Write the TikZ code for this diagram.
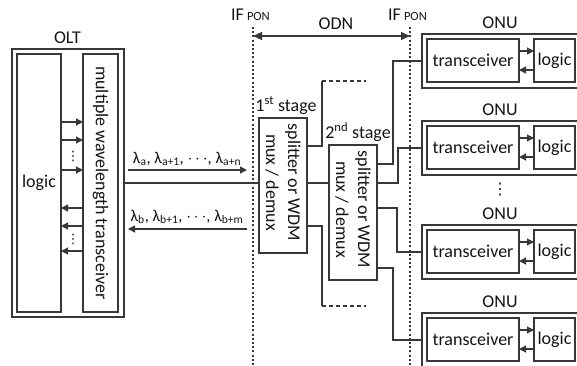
\documentclass[tikz,border=0pt]{standalone}
\usepackage{fontspec}
\setmainfont{Carlito}
\newfontfamily\symfont{DejaVu Sans}
\usetikzlibrary{arrows.meta,calc}
\definecolor{linec}{gray}{0.22}
\definecolor{textc}{gray}{0.08}
\begin{document}
\begin{tikzpicture}[x=1pt,y=-1pt,
  box/.style={draw=linec, line width=1.2pt, inner sep=0pt, outer sep=0pt, anchor=north west, text=textc, font=\fontsize{18}{22}\selectfont},
  wire/.style={draw=linec, line width=1.2pt},
  arr/.style={wire, -{Triangle[length=7pt,width=7pt]}},
  txt/.style={text=textc, font=\fontsize{18}{22}\selectfont, inner sep=0pt},
  iftxt/.style={text=textc, font=\fontsize{18}{18}\selectfont, inner sep=0pt, anchor=base west},
  vdot/.style={text=textc, font=\symfont\fontsize{13}{13}\selectfont, inner sep=0pt},
  dotline/.style={draw=linec, line width=1.3pt, dash pattern=on 2pt off 2.2pt},
  dashline/.style={draw=linec, line width=1.2pt, dash pattern=on 4pt off 3pt}]
\useasboundingbox (0,0) rectangle (577,365);
\clip (0,0) rectangle (577,365);

% OLT
\node[txt] (oltl) at (67.5,38) {OLT};
\node[box, minimum width=112pt, minimum height=268pt] (olt) at (12,49) {};
\node[box, minimum width=44pt, minimum height=258pt] (ologic) at (17,54) {};
\node[txt] (ologict) at (ologic.center) {logic};
\node[box, minimum width=35pt, minimum height=258pt] (otrx) at (83,54) {};
\node[txt, rotate=-90] (otrxt) at (otrx.center) {multiple wavelength transceiver};
\foreach \d in {68pt,86pt,116pt}
  \draw[arr] ([yshift=-\d]ologic.north east) -- ([yshift=-\d]otrx.north west);
\foreach \d in {154pt,172pt,197pt}
  \draw[arr] ([yshift=-\d]otrx.north west) -- ([yshift=-\d]ologic.north east);
\node[vdot] (od1) at (73,156) {⋮};
\node[vdot] (od2) at (73,239) {⋮};

% IF PON lines and ODN
\coordinate (if1t) at (253,27); \coordinate (if1b) at (253,366);
\coordinate (if2t) at (410,27); \coordinate (if2b) at (410,366);
\draw[dotline] (if1t) -- (if1b);
\draw[dotline] (if2t) -- (if2b);
\coordinate (odnl) at (253,36); \coordinate (odnr) at (410,36);
\draw[wire, {Triangle[length=9pt,width=8pt]}-{Triangle[length=9pt,width=8pt]}] (odnl) -- (odnr);
\node[txt] (odn) at (336,24) {ODN};
\node[iftxt] (if1) at (231,20) {IF\,{\fontsize{12.5}{13}\selectfont PON}};
\node[iftxt] (if2) at (388,20) {IF\,{\fontsize{12.5}{13}\selectfont PON}};

% stages
\node[box, minimum width=48pt, minimum height=135pt] (s1) at (259,118) {};
\node[txt, rotate=-90, align=center] (s1t) at ($(s1.center)+(0,-3)$) {splitter or WDM\\mux / demux};
\node[txt, anchor=base] (st1) at (286,111) {1\textsuperscript{st} stage};
\node[box, minimum width=48pt, minimum height=135pt] (s2) at (329,145) {};
\node[txt, rotate=-90, align=center] (s2t) at ($(s2.center)+(0,-3)$) {splitter or WDM\\mux / demux};
\node[txt, anchor=base] (st2) at (358,138) {2\textsuperscript{nd} stage};

% fiber and wavelengths
\draw[wire] (olt.east) -- (olt.east -| s1.west);
\draw[wire] (s1.east |- olt.east) -- (s2.west |- olt.east);
\coordinate (la1) at (128,170); \coordinate (la2) at (247,170);
\coordinate (lb1) at (247,229); \coordinate (lb2) at (128,229);
\draw[arr] (la1) -- (la2);
\draw[arr] (lb1) -- (lb2);
\node[txt, anchor=base, font=\fontsize{16.5}{17}\selectfont] (lat) at (187,163) {λ\textsubscript{a}, λ\textsubscript{a+1}, $\cdots$, λ\textsubscript{a+n}};
\node[txt, anchor=base, font=\fontsize{16.5}{17}\selectfont] (lbt) at (187,221) {λ\textsubscript{b}, λ\textsubscript{b+1}, $\cdots$, λ\textsubscript{b+m}};

% 1st stage outputs
\coordinate (u1) at (322,81); \coordinate (u2) at (366,81);
\draw[wire] ([yshift=-28pt]s1.north east) -| (u1);
\draw[dashline] (u1) -- (u2);
\coordinate (d1) at (322,306); \coordinate (d2) at (366,306);
\draw[wire] ([yshift=27pt]s1.south east) -| (d1);
\draw[dashline] (d1) -- (d2);

% ONUs
\foreach \i/\t in {1/34, 2/121, 3/225, 4/313} {
  \node[box, minimum width=160pt, minimum height=54pt] (onu\i) at (422,\t) {};
  \node[box, minimum width=92pt, minimum height=43pt] (trx\i) at (427,\t+5) {transceiver};
  \node[box, minimum width=41pt, minimum height=43pt] (lg\i) at (534,\t+5) {logic};
  \node[txt] (onul\i) at (500,\t-11) {ONU};
  \draw[arr] ([yshift=-12pt]trx\i.north east) -- ([yshift=-12pt]lg\i.north west);
  \draw[arr] ([yshift=12pt]lg\i.south west) -- ([yshift=12pt]trx\i.south east);
}
\node[vdot, font=\symfont\fontsize{16}{16}\selectfont] (vd) at (500,190) {⋮};

% 2nd stage outputs
\draw[wire] ([yshift=-19pt]s2.north east) -- ++(16,0) |- (onu1.west);
\draw[wire] ([yshift=-38pt]s2.north east) -- ++(21,0) |- (onu2.west);
\draw[wire] ([yshift=-63pt]s2.north east) -- ++(20,0) |- (onu3.west);
\draw[wire] ([yshift=12pt]s2.south east) -- ++(16,0) |- (onu4.west);
\end{tikzpicture}
\end{document}
